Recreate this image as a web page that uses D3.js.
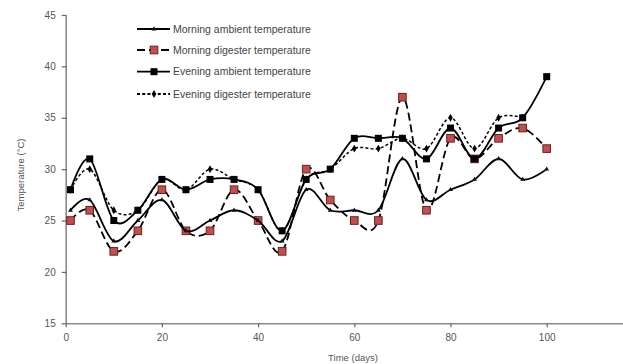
<!DOCTYPE html>
<html>
<head>
<meta charset="utf-8">
<script src="https://cdn.jsdelivr.net/npm/d3@7"></script>
<style>
  html, body { margin: 0; padding: 0; background: #fff; }
  svg { display: block; }
  text { font-family: "Liberation Sans", "DejaVu Sans", sans-serif; }
</style>
</head>
<body>
<svg id="chart" width="623" height="364"></svg>
<script>
// Sampling days
const days = [1, 5, 10, 15, 20, 25, 30, 35, 40, 45, 50, 55, 60, 65, 70, 75, 80, 85, 90, 95, 100];

// Temperatures (°C) per series
const morningAmbient  = [26, 27, 23, 25, 27, 24, 25, 26, 25, 23, 28, 26, 26, 26, 31, 27, 28, 29, 31, 29, 30];
const morningDigester = [25, 26, 22, 24, 28, 24, 24, 28, 25, 22, 30, 27, 25, 25, 37, 26, 33, 31, 33, 34, 32];
const eveningAmbient  = [28, 31, 25, 26, 29, 28, 29, 29, 28, 24, 29, 30, 33, 33, 33, 31, 34, 31, 34, 35, 39];
const eveningDigester = [28, 30, 26, 26, 29, 28, 30, 29, 28, 24, 29, 30, 32, 32, 33, 32, 35, 32, 35, 35];

const seriesNames = [
  "Morning ambient temperature",
  "Morning digester temperature",
  "Evening ambient temperature",
  "Evening digester temperature"
];

const xTicks = [0, 20, 40, 60, 80, 100];
const yTicks = [15, 20, 25, 30, 35, 40, 45];

const svg = d3.select("#chart");
// the time axis runs to 120 days; the right end falls past the canvas edge
const x = d3.scaleLinear().domain([0, 120]).range([65.7, 65.7 + 120 * 4.81]);
const y = d3.scaleLinear().domain([15, 45]).range([323.3, 15]);

const axisColor = "#8a8a8a";
const labelColor = "#555";

// Axes
const gy = svg.append("g").attr("transform", `translate(${x(0)},0)`)
  .call(d3.axisLeft(y).tickValues(yTicks).tickSize(4).tickSizeOuter(0).tickPadding(6));
const gx = svg.append("g").attr("transform", `translate(0,${y(15)})`)
  .call(d3.axisBottom(x).tickValues(xTicks).tickSize(4).tickSizeOuter(0).tickPadding(7));
[gx, gy].forEach(g => {
  g.selectAll("path").attr("stroke", axisColor).attr("stroke-width", 1.6);
  g.selectAll("line").attr("stroke", "#666").attr("stroke-width", 1.2);
  g.selectAll("text").attr("fill", labelColor).attr("font-size", "10px")
    .attr("font-family", "Liberation Sans, sans-serif");
});
gy.selectAll(".tick line").attr("x1", -4).attr("x2", 1);

// Axis titles
svg.append("text")
  .attr("transform", `translate(24,175) rotate(-90)`)
  .attr("text-anchor", "middle").attr("font-size", "9.5px").attr("fill", labelColor)
  .text("Temperature (°C)");
svg.append("text")
  .attr("x", 353).attr("y", 361)
  .attr("text-anchor", "middle").attr("font-size", "9.5px").attr("fill", labelColor)
  .text("Time (days)");

// Series styles
const styles = [
  { data: morningAmbient,  dash: null,  marker: "tri" },
  { data: morningDigester, dash: "8,4", marker: "redsq" },
  { data: eveningAmbient,  dash: null,  marker: "sq" },
  { data: eveningDigester, dash: "3,2.2", marker: "dia" }
];

const line = d3.line()
  .x(d => x(d[0])).y(d => y(d[1]))
  .curve(d3.curveCardinal.tension(0));

function drawMarker(g, m, cx, cy) {
  if (m === "tri") {
    g.append("path").attr("d", d3.symbol(d3.symbolTriangle, 10)())
      .attr("transform", `translate(${cx},${cy})`).attr("fill", "#111");
  } else if (m === "redsq") {
    g.append("rect").attr("x", cx - 3.8).attr("y", cy - 3.8).attr("width", 7.6).attr("height", 7.6)
      .attr("fill", "#c0504d").attr("stroke", "#6e1e1c").attr("stroke-width", 1);
  } else if (m === "sq") {
    g.append("rect").attr("x", cx - 3.5).attr("y", cy - 3.5).attr("width", 7).attr("height", 7)
      .attr("fill", "#000");
  } else if (m === "dia") {
    g.append("path").attr("d", d3.symbol(d3.symbolDiamond, 18)())
      .attr("transform", `translate(${cx},${cy})`).attr("fill", "#000");
  }
}

// Dashed series go underneath the solid ones
const order = [3, 1, 0, 2];
order.forEach(i => {
  const s = styles[i];
  const pts = s.data.map((v, j) => [days[j], v]);
  const g = svg.append("g");
  g.append("path").attr("d", line(pts))
    .attr("fill", "none").attr("stroke", "#000")
    .attr("stroke-width", i === 3 ? 1.5 : 1.8)
    .attr("stroke-dasharray", s.dash);
  pts.forEach(p => drawMarker(g, s.marker, x(p[0]), y(p[1])));
});

// Legend
const legendRows = [29, 50, 71.7, 94];
seriesNames.forEach((name, i) => {
  const g = svg.append("g");
  const ly = legendRows[i];
  g.append("line").attr("x1", 137).attr("x2", 170).attr("y1", ly).attr("y2", ly)
    .attr("stroke", "#000").attr("stroke-width", 1.8)
    .attr("stroke-dasharray", styles[i].dash);
  drawMarker(g, styles[i].marker, 154, ly);
  g.append("text").attr("x", 173).attr("y", ly + 3.7)
    .attr("font-size", "10.5px").attr("fill", "#444")
    .text(name);
});
</script>
</body>
</html>
